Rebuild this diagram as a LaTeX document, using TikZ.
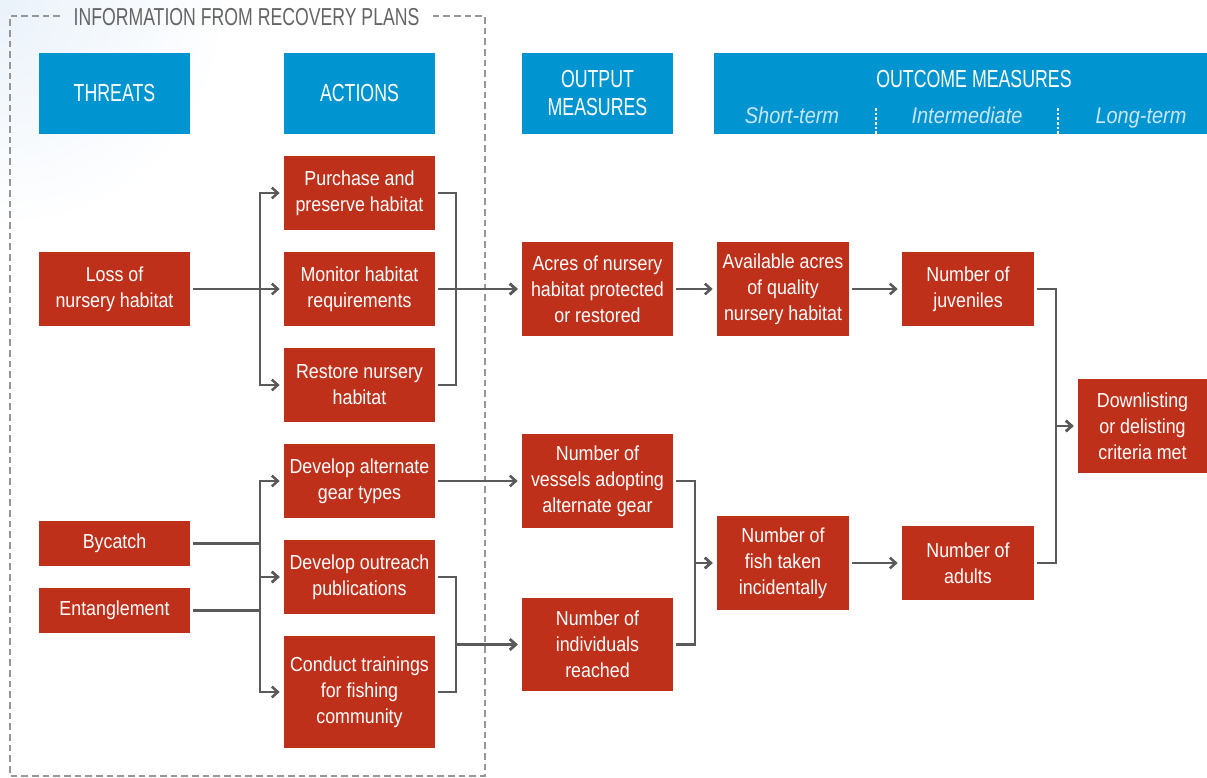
\documentclass[tikz,border=0pt]{standalone}
\usepackage{fontspec}
\setmainfont{Liberation Sans}[FakeStretch=0.88]
\newfontfamily\hdfont{Liberation Sans}[FakeStretch=0.72]
\usetikzlibrary{arrows.meta}
\definecolor{rd}{RGB}{191,48,27}
\definecolor{bl}{RGB}{0,148,209}
\definecolor{ln}{RGB}{90,90,90}
\definecolor{fr}{RGB}{150,150,150}
\definecolor{tt}{RGB}{100,100,100}
\definecolor{sub}{RGB}{200,230,245}
\definecolor{bgb}{RGB}{234,242,250}
\tikzset{
  rbox/.style={fill=rd, text=white, align=center, inner sep=0pt,
    font=\fontsize{15.2}{19.5}\selectfont},
  hbox/.style={fill=bl, text=white, align=center, inner sep=0pt,
    font=\hdfont\fontsize{18.5}{21}\selectfont},
  conn/.style={draw=ln, line width=1.9pt, shorten <=2pt},
  arr/.style={conn, -{Straight Barb[length=4.5pt,width=8pt]}, shorten >=3pt},
  frame/.style={draw=fr, line width=1.5pt, dash pattern=on 5pt off 3pt},
  subt/.style={text=sub, font=\fontsize{17}{20}\selectfont\itshape, inner sep=0pt, anchor=base},
}
\newcommand\bx[7]{\node[#1, minimum width={(#5-#3)*0.75pt}, minimum height={(#6-#4)*0.75pt}] (#2) at ({(#3+#5)/2},{(#4+#6)/2}) {#7};}
\begin{document}
\begin{tikzpicture}[x=0.75pt,y=-0.75pt]
\useasboundingbox (0,0) rectangle (1207,778);
\begin{scope}
\clip (0,0) rectangle (1207,778);
\shade[inner color=bgb, outer color=white] (0,0) circle (230);
\end{scope}
% frame and title
\node[text=tt, font=\hdfont\fontsize{18.4}{20}\selectfont, inner sep=0pt] (title) at (246.5,17) {INFORMATION FROM RECOVERY PLANS};
\draw[frame] (60,16) -- (10,16) -- (10,776) -- (485,776) -- (485,16) -- (432,16);
% headers
\bx{hbox}{threats}{39}{53}{190}{134}{THREATS}
\bx{hbox}{actions}{284}{53}{435}{134}{ACTIONS}
\bx{hbox}{output}{522}{53}{673}{134}{OUTPUT\\MEASURES}
\bx{hbox}{outcome}{714}{53}{1207}{134}{}
\node[text=white, font=\hdfont\fontsize{18.5}{21}\selectfont, inner sep=0pt] (outt) at (974,79) {OUTCOME MEASURES};
\node[subt] (st) at (792,123) {Short-term};
\node[subt] (im) at (967,123) {Intermediate};
\node[subt] (lt) at (1141,123) {Long-term};
\draw[white, line width=0.8pt, dash pattern=on 2pt off 1.5pt] (876,108) -- (876,134);
\draw[white, line width=0.8pt, dash pattern=on 2pt off 1.5pt] (1058,108) -- (1058,134);
% red boxes
\bx{rbox}{loss}{39}{252}{190}{326}{Loss of\\nursery habitat}
\bx{rbox}{purchase}{284}{156}{435}{230}{Purchase and\\preserve habitat}
\bx{rbox}{monitor}{284}{252}{435}{326}{Monitor habitat\\requirements}
\bx{rbox}{restore}{284}{348}{435}{422}{Restore nursery\\habitat}
\bx{rbox}{gear}{284}{444}{435}{518}{Develop alternate\\gear types}
\bx{rbox}{bycatch}{39}{521}{190}{566}{Bycatch}
\bx{rbox}{entangle}{39}{588}{190}{633}{Entanglement}
\bx{rbox}{outreach}{284}{540}{435}{614}{Develop outreach\\publications}
\bx{rbox}{conduct}{284}{636}{435}{748}{Conduct trainings\\for fishing\\community}
\bx{rbox}{acres}{522}{242}{673}{336}{Acres of nursery\\habitat protected\\or restored}
\bx{rbox}{vessels}{522}{434}{673}{528}{Number of\\vessels adopting\\alternate gear}
\bx{rbox}{individuals}{522}{598}{673}{691}{Number of\\individuals\\reached}
\bx{rbox}{available}{717}{242}{849}{336}{Available acres\\of quality\\nursery habitat}
\bx{rbox}{fish}{717}{516}{849}{610}{Number of\\fish taken\\incidentally}
\bx{rbox}{juveniles}{902}{252}{1034}{326}{Number of\\juveniles}
\bx{rbox}{adults}{902}{526}{1034}{600}{Number of\\adults}
\bx{rbox}{down}{1078}{379}{1207}{473}{Downlisting\\or delisting\\criteria met}
% bracket columns
\coordinate (xa) at (260,0);
\coordinate (xb) at (456,0);
\coordinate (xc) at (695,0);
\coordinate (xd) at (1056,0);
% connectors
\draw[arr] (loss.east) -- (loss.east -| xa) |- (purchase.west);
\draw[arr] (loss.east) -- (monitor.west);
\draw[arr] (loss.east) -- (loss.east -| xa) |- (restore.west);
\draw[arr] (purchase.east) -| (xb |- monitor) -- (acres.west);
\draw[arr] (restore.east) -| (xb |- monitor) -- (acres.west);
\draw[arr] (monitor.east) -- (acres.west);
\draw[arr] (bycatch.east) -- (bycatch.east -| xa) |- (gear.west);
\draw[arr] (bycatch.east) -- (bycatch.east -| xa) |- (outreach.west);
\draw[arr] (entangle.east) -- (entangle.east -| xa) |- (conduct.west);
\draw[arr] (entangle.east) -- (entangle.east -| xa) |- (outreach.west);
\draw[arr] (gear.east) -- (vessels.west);
\draw[arr] (outreach.east) -| (xb |- individuals) -- (individuals.west);
\draw[arr] (conduct.east) -| (xb |- individuals) -- (individuals.west);
\draw[arr] (acres.east) -- (available.west);
\draw[arr] (available.east) -- (juveniles.west);
\draw[arr] (vessels.east) -| (xc |- fish) -- (fish.west);
\draw[arr] (individuals.east) -| (xc |- fish) -- (fish.west);
\draw[arr] (fish.east) -- (adults.west);
\draw[arr] (juveniles.east) -| (xd |- down) -- (down.west);
\draw[arr] (adults.east) -| (xd |- down) -- (down.west);
\end{tikzpicture}
\end{document}
